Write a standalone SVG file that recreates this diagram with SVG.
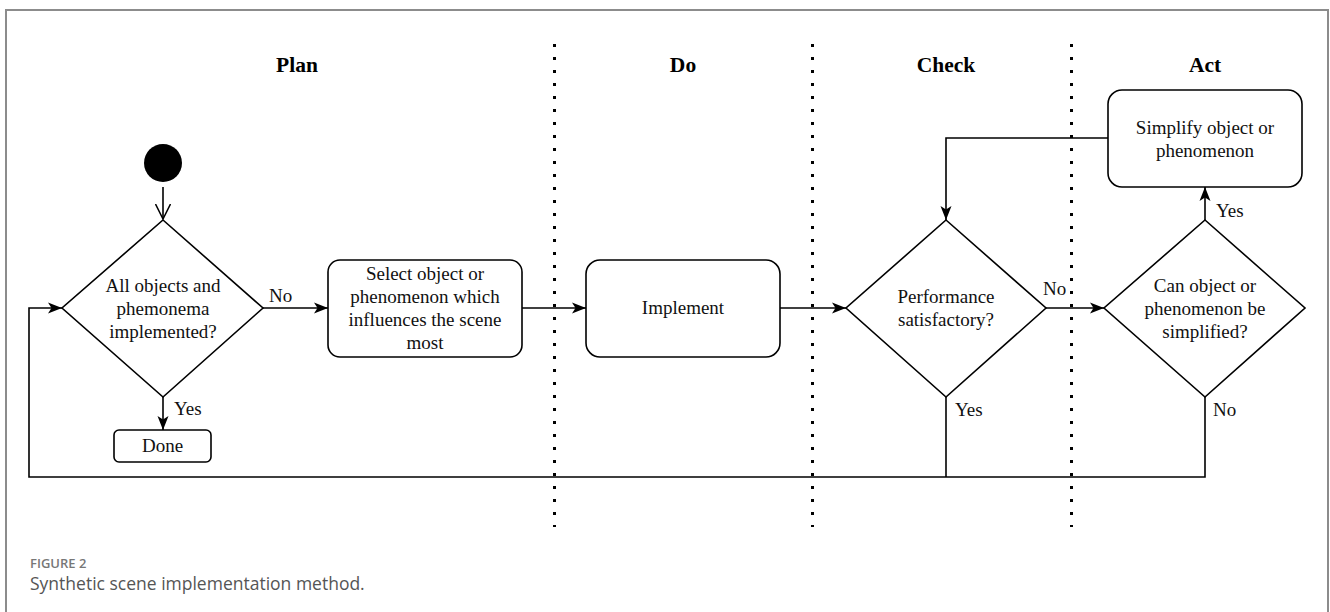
<svg xmlns="http://www.w3.org/2000/svg" width="1330" height="612" viewBox="0 0 1330 612">
<style>
  .frame{fill:none;stroke:#8c8c8c;stroke-width:2}
  .lane{stroke:#000;stroke-width:3;stroke-dasharray:3 10;fill:none}
  .shape{fill:#fff;stroke:#000;stroke-width:1.6}
  .edge{fill:none;stroke:#000;stroke-width:1.6}
  .t{font-family:"Liberation Serif","Times New Roman",serif;font-size:19px;fill:#111;text-anchor:middle}
  .lbl{font-family:"Liberation Serif","Times New Roman",serif;font-size:19px;fill:#111}
  .hd{font-family:"Liberation Serif","Times New Roman",serif;font-size:21.5px;font-weight:bold;fill:#000;text-anchor:middle}
  .fig{font-family:"Open Sans","Noto Sans",sans-serif;font-size:13px;font-weight:600;fill:#777}
  .cap{font-family:"Open Sans","Noto Sans",sans-serif;font-size:17.5px;fill:#555}
</style>
<defs>
  <marker id="arr" markerUnits="userSpaceOnUse" viewBox="0 0 14 12" refX="14" refY="6" markerWidth="14" markerHeight="12" orient="auto">
    <path d="M0,0.5 L14,6 L0,11.5 L3.5,6 Z" fill="#000"/>
  </marker>
  <marker id="open" markerUnits="userSpaceOnUse" viewBox="0 0 16 16" refX="15" refY="8" markerWidth="16" markerHeight="16" orient="auto">
    <path d="M0,0.5 L15,8 L0,15.5" fill="none" stroke="#000" stroke-width="1.5"/>
  </marker>
</defs>
<rect width="1330" height="612" fill="#fff"/>
<path class="frame" d="M6,612 V10 H1328 V612"/>

<g id="lanes">
  <line class="lane" x1="554.5" y1="44" x2="554.5" y2="527"/>
  <line class="lane" x1="812.5" y1="44" x2="812.5" y2="527"/>
  <line class="lane" x1="1071.5" y1="44" x2="1071.5" y2="527"/>
  <text class="hd" x="297" y="72">Plan</text>
  <text class="hd" x="683" y="72">Do</text>
  <text class="hd" x="946" y="72">Check</text>
  <text class="hd" x="1205" y="72">Act</text>
</g>

<g id="connectors">
  <line class="edge" x1="163" y1="187" x2="163" y2="219" marker-end="url(#open)"/>
  <line class="edge" x1="263" y1="308" x2="328" y2="308" marker-end="url(#arr)"/>
  <line class="edge" x1="163" y1="397" x2="163" y2="430" marker-end="url(#arr)"/>
  <line class="edge" x1="522" y1="308" x2="586" y2="308" marker-end="url(#arr)"/>
  <line class="edge" x1="780" y1="308" x2="846" y2="308" marker-end="url(#arr)"/>
  <line class="edge" x1="1046" y1="308" x2="1104" y2="308" marker-end="url(#arr)"/>
  <line class="edge" x1="1205" y1="220" x2="1205" y2="187" marker-end="url(#arr)"/>
  <polyline class="edge" points="1108,138 946,138 946,220" marker-end="url(#arr)"/>
  <line class="edge" x1="946" y1="397" x2="946" y2="477"/>
  <polyline class="edge" points="1205,397 1205,477 29,477 29,308 62,308" marker-end="url(#arr)"/>
  <text class="lbl" x="269" y="302">No</text>
  <text class="lbl" x="174" y="415">Yes</text>
  <text class="lbl" x="1043" y="295">No</text>
  <text class="lbl" x="1216" y="217">Yes</text>
  <text class="lbl" x="955" y="416">Yes</text>
  <text class="lbl" x="1213" y="416">No</text>
</g>

<g id="start">
  <circle cx="163" cy="163" r="19" fill="#000"/>
</g>

<g id="decision-all">
  <polygon class="shape" points="163,220 263,308 163,397 62,308"/>
  <text class="t" x="163" y="291.5">All objects and</text>
  <text class="t" x="163" y="314.5">phemonema</text>
  <text class="t" x="163" y="337.5">implemented?</text>
</g>

<g id="done">
  <rect class="shape" x="114" y="430" width="97" height="32" rx="5"/>
  <text class="t" x="162.5" y="452">Done</text>
</g>

<g id="select">
  <rect class="shape" x="328" y="260" width="194" height="97" rx="12"/>
  <text class="t" x="425" y="280">Select object or</text>
  <text class="t" x="425" y="303">phenomenon which</text>
  <text class="t" x="425" y="326">influences the scene</text>
  <text class="t" x="425" y="349">most</text>
</g>

<g id="implement">
  <rect class="shape" x="586" y="260" width="194" height="97" rx="14"/>
  <text class="t" x="683" y="314">Implement</text>
</g>

<g id="decision-performance">
  <polygon class="shape" points="946,220 1046,308 946,397 846,308"/>
  <text class="t" x="946" y="303">Performance</text>
  <text class="t" x="946" y="326">satisfactory?</text>
</g>

<g id="decision-simplify">
  <polygon class="shape" points="1205,220 1305,308 1205,397 1104,308"/>
  <text class="t" x="1205" y="292">Can object or</text>
  <text class="t" x="1205" y="315">phenomenon be</text>
  <text class="t" x="1205" y="338">simplified?</text>
</g>

<g id="simplify">
  <rect class="shape" x="1108" y="90" width="194" height="97" rx="14"/>
  <text class="t" x="1205" y="133.5">Simplify object or</text>
  <text class="t" x="1205" y="156.5">phenomenon</text>
</g>

<g id="caption">
  <text class="fig" x="30" y="568">FIGURE 2</text>
  <text class="cap" x="30" y="590">Synthetic scene implementation method.</text>
</g>
</svg>
